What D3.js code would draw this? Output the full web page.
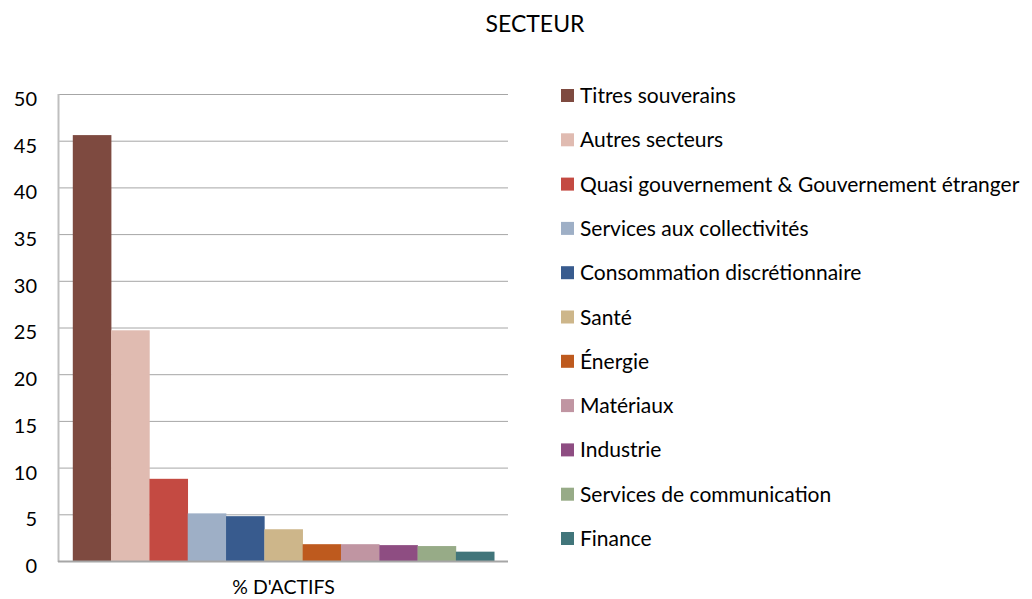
<!DOCTYPE html>
<html><head><meta charset="utf-8">
<script src="https://cdn.jsdelivr.net/npm/d3@7"></script>
<style>body{margin:0;background:#fff}svg{display:block}</style>
</head><body>
<svg id="c" width="1032" height="599"></svg>
<script>
const title = "SECTEUR";
const categories = ["% D'ACTIFS"];
const seriesNames = ["Titres souverains","Autres secteurs","Quasi gouvernement & Gouvernement étranger","Services aux collectivités","Consommation discrétionnaire","Santé","Énergie","Matériaux","Industrie","Services de communication","Finance"];
const seriesValues = [45.6, 24.7, 8.8, 5.1, 4.8, 3.4, 1.8, 1.8, 1.7, 1.6, 1.0];
const seriesColors = ["#7E4A40","#E0BBB1","#C44A42","#9EAFC6","#385B8E","#CDB68A","#BE5A1E","#C095A2","#8E4D82","#97AB87","#41757A"];
const yTicks = [0,5,10,15,20,25,30,35,40,45,50];

const font = "Lato, 'Open Sans', sans-serif";
const svg = d3.select("#c");
const L = 59, R = 508, T = 94, B = 561;

const y = d3.scaleLinear().domain([0,50]).range([B,T]);
const xCat = d3.scaleBand().domain(categories).range([L,R]).padding(0);
const xSer = d3.scaleBand().domain(seriesNames).range([0,xCat.bandwidth()]).paddingInner(0).paddingOuter(0.36);

// gridlines
svg.append("g").selectAll("line").data(yTicks.filter(d=>d>0)).join("line")
  .attr("x1",L).attr("x2",R).attr("y1",d=>y(d)+0.5).attr("y2",d=>y(d)+0.5)
  .attr("stroke","#A6A6A6").attr("stroke-width",1);

// bars
const data = seriesNames.map((s,i)=>({cat:categories[0],name:s,value:seriesValues[i],color:seriesColors[i]}));
svg.append("g").selectAll("rect").data(data).join("rect")
  .attr("x",d=>xCat(d.cat)+xSer(d.name))
  .attr("width",xSer.bandwidth()+0.3)
  .attr("y",d=>y(d.value))
  .attr("height",d=>y(0)-y(d.value))
  .attr("fill",d=>d.color);

// axes lines
svg.append("line").attr("x1",L-0.5).attr("x2",L-0.5).attr("y1",T).attr("y2",B+1)
  .attr("stroke","#BFBFBF").attr("stroke-width",2);
svg.append("line").attr("x1",L-1).attr("x2",R).attr("y1",B+0.5).attr("y2",B+0.5)
  .attr("stroke","#A6A6A6").attr("stroke-width",2);

// y tick labels
const yAxis = d3.axisLeft(y).tickValues(yTicks).tickSize(0).tickPadding(0);
const ga = svg.append("g").attr("transform",`translate(37,5)`).call(yAxis);
ga.select(".domain").remove();
ga.selectAll("text").attr("font-family",font).attr("font-size",20).attr("fill","#000").attr("text-anchor","end");

// x category label
svg.append("g").selectAll("text").data(categories).join("text")
  .attr("x",d=>xCat(d)+xCat.bandwidth()/2).attr("y",594)
  .attr("text-anchor","middle").attr("font-family",font).attr("font-size",19.5).attr("fill","#000")
  .text(d=>d);

// title
svg.append("text").attr("x",535).attr("y",32).attr("text-anchor","middle")
  .attr("font-family",font).attr("font-size",23).attr("fill","#000").text(title);

// legend
const lg = svg.append("g").selectAll("g").data(data).join("g")
  .attr("transform",(d,i)=>`translate(561,${89+i*44.3})`);
lg.append("rect").attr("width",13).attr("height",13).attr("fill",d=>d.color);
lg.append("text").attr("x",19).attr("y",14).attr("font-family",font).attr("font-size",21).attr("fill","#000").text(d=>d.name);
</script>
</body></html>
